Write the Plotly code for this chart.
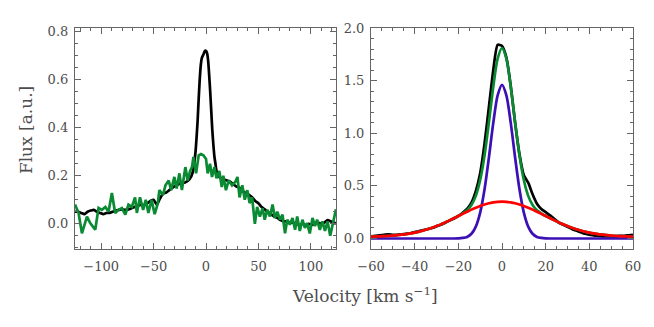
import plotly.graph_objects as go

# left panel: observed profile (black) and second line (green)
v_left_black = [-125, -122, -119, -116, -113, -110, -107, -104, -101, -98, -95, -92, -89, -86,
                -83, -80, -77, -74, -71, -68, -65, -62, -59, -56, -53, -50, -47, -44, -41, -38,
                -35, -32, -29, -26, -23, -20, -17, -15, -13, -11, -10, -9, -8, -7, -6, -5, -4,
                -3, -2, -1, 0, 1, 2, 3, 4, 5, 6, 7, 8, 9, 10, 12, 14, 17, 20, 23, 26, 29, 32,
                35, 38, 41, 44, 47, 50, 53, 56, 59, 62, 65, 68, 71, 74, 77, 80, 83, 86, 89, 92,
                95, 98, 101, 104, 107, 110, 113, 116, 119, 122, 124]
f_left_black = [0.05, 0.05, 0.045, 0.04, 0.05, 0.055, 0.058, 0.05, 0.045, 0.04, 0.045, 0.045, 0.05,
                0.055, 0.058, 0.06, 0.058, 0.06, 0.065, 0.07, 0.075, 0.08, 0.078, 0.085, 0.095,
                0.1, 0.08, 0.105, 0.125, 0.13, 0.14, 0.15, 0.16, 0.165, 0.17, 0.172, 0.18, 0.19,
                0.21, 0.26, 0.3, 0.36, 0.43, 0.52, 0.6, 0.66, 0.69, 0.7, 0.71, 0.72, 0.72, 0.71,
                0.68, 0.62, 0.55, 0.47, 0.39, 0.33, 0.28, 0.25, 0.22, 0.2, 0.19, 0.185, 0.18,
                0.175, 0.165, 0.155, 0.15, 0.135, 0.128, 0.12, 0.11, 0.095, 0.085, 0.07, 0.06,
                0.05, 0.04, 0.03, 0.025, 0.015, 0.01, 0.01, 0.005, 0.005, 0.0, -0.005, 0.0,
                -0.005, 0.0, -0.005, 0.0, 0.005, 0.0, 0.005, 0.015, 0.01, 0.005, 0.0]

v_left_green = [-125, -121.6, -118.4, -113.6, -110.5, -105.7, -102.5, -99.4, -96, -93, -89.8,
                -86.7, -83.5, -80.3, -77, -74, -70.8, -67.7, -66, -63, -60, -57.5, -55, -52,
                -49, -46, -44.5, -41, -38.7, -35.6, -33.3, -30.2, -28, -25.4, -23, -19.7, -17.5,
                -15.2, -13.4, -12, -9.5, -7, -4.8, -2.5, 0, 1.6, 3.8, 5.7, 8, 10, 12.7, 15,
                16.5, 19, 21.6, 24.8, 28, 30, 32, 34.6, 37, 39.4, 41.6, 44, 46.6, 48.8, 51.4,
                54, 56, 58.4, 61, 63.5, 65.7, 68, 70.5, 73, 75.4, 77.5, 80, 82.5, 85, 87, 89.5,
                92, 94.3, 96.5, 99, 101.6, 104, 106, 108.6, 111, 113.5, 116, 118.5, 121, 124]
f_left_green = [0.08, 0.045, -0.04, 0.03, 0.003, -0.025, 0.066, 0.058, 0.07, 0.05, 0.128, 0.045,
                0.058, 0.065, 0.038, 0.08, 0.07, 0.11, 0.045, 0.11, 0.058, 0.1, 0.045, 0.1,
                0.04, 0.085, 0.14, 0.12, 0.16, 0.18, 0.14, 0.195, 0.147, 0.21, 0.14, 0.236,
                0.18, 0.22, 0.236, 0.278, 0.21, 0.285, 0.29, 0.285, 0.27, 0.21, 0.25, 0.195,
                0.236, 0.19, 0.22, 0.153, 0.2, 0.14, 0.18, 0.16, 0.175, 0.195, 0.11, 0.16, 0.1,
                0.14, 0.086, 0.11, 0.0, 0.07, 0.03, 0.065, 0.017, 0.058, 0.03, 0.08, 0.024,
                0.05, 0.017, 0.038, -0.04, 0.017, -0.004, 0.024, -0.025, 0.03, -0.03, 0.017,
                -0.017, 0.003, -0.04, 0.024, -0.01, 0.017, -0.025, 0.01, -0.03, 0.01, -0.05,
                0.0, 0.06]

# right panel: observed profile and two-component fit
v_right = [-60, -58, -56, -54, -52, -50, -48, -46, -44, -42, -40, -38, -36, -34, -32, -30,
           -28, -26, -24, -22, -20, -18, -16, -14, -12, -10, -8, -6, -4, -2, 0, 2, 4, 6, 8,
           10, 12, 14, 16, 18, 20, 22, 24, 26, 28, 30, 32, 34, 36, 38, 40, 42, 44, 46, 48,
           50, 52, 54, 56, 58, 60]
f_right_black = [0.02, 0.025, 0.03, 0.035, 0.04, 0.035, 0.035, 0.04, 0.045, 0.05, 0.062, 0.07,
                 0.08, 0.09, 0.1, 0.115, 0.13, 0.15, 0.17, 0.19, 0.215, 0.245, 0.28, 0.34,
                 0.45, 0.62, 0.9, 1.25, 1.6, 1.84, 1.83, 1.72, 1.45, 1.1, 0.8, 0.6, 0.53, 0.42,
                 0.33, 0.28, 0.25, 0.22, 0.185, 0.15, 0.13, 0.11, 0.09, 0.075, 0.06, 0.045, 0.035,
                 0.03, 0.025, 0.02, 0.02, 0.02, 0.02, 0.025, 0.025, 0.03, 0.035]
f_right_total = [0.018, 0.019, 0.02, 0.022, 0.025, 0.027, 0.031, 0.036, 0.041, 0.048, 0.056,
                 0.065, 0.076, 0.088, 0.102, 0.118, 0.134, 0.153, 0.172, 0.194, 0.214, 0.239,
                 0.269, 0.319, 0.405, 0.555, 0.79, 1.104, 1.441, 1.708, 1.81, 1.708, 1.441,
                 1.104, 0.79, 0.555, 0.405, 0.319, 0.269, 0.239, 0.214, 0.194, 0.172, 0.153,
                 0.134, 0.118, 0.102, 0.088, 0.076, 0.065, 0.056, 0.048, 0.041, 0.036, 0.031,
                 0.027, 0.025, 0.022, 0.02, 0.019, 0.018]
f_right_narrow = [0, 0, 0, 0, 0, 0, 0, 0, 0, 0, 0, 0, 0, 0, 0, 0, 0, 0, 0, 0, 0.001, 0.005,
                  0.015, 0.045, 0.113, 0.246, 0.467, 0.769, 1.098, 1.36, 1.46, 1.36, 1.098,
                  0.769, 0.467, 0.246, 0.113, 0.045, 0.015, 0.005, 0.001, 0, 0, 0, 0, 0, 0, 0,
                  0, 0, 0, 0, 0, 0, 0, 0, 0, 0, 0, 0, 0]
f_right_broad = [0.018, 0.019, 0.02, 0.022, 0.025, 0.027, 0.031, 0.036, 0.041, 0.048, 0.056,
                 0.065, 0.076, 0.088, 0.102, 0.118, 0.134, 0.153, 0.172, 0.192, 0.213, 0.234,
                 0.254, 0.274, 0.292, 0.309, 0.323, 0.335, 0.343, 0.348, 0.35, 0.348, 0.343,
                 0.335, 0.323, 0.309, 0.292, 0.274, 0.254, 0.234, 0.213, 0.192, 0.172, 0.153,
                 0.134, 0.118, 0.102, 0.088, 0.076, 0.065, 0.056, 0.048, 0.041, 0.036, 0.031,
                 0.027, 0.025, 0.022, 0.02, 0.019, 0.018]

BLACK = '#000000'
GREEN = '#0a8a32'
BLUE = '#3c10b4'
RED = '#ff0000'
TXT = '#4d4d4d'
FONT = 'DejaVu Serif'

fig = go.Figure()
fig.add_trace(go.Scatter(x=v_left_black, y=f_left_black, mode='lines',
                         line=dict(color=BLACK, width=2.7, shape='spline', smoothing=0.6),
                         xaxis='x', yaxis='y'))
fig.add_trace(go.Scatter(x=v_left_green, y=f_left_green, mode='lines',
                         line=dict(color=GREEN, width=2.7), xaxis='x', yaxis='y'))

fig.add_trace(go.Scatter(x=v_right, y=f_right_black, mode='lines',
                         line=dict(color=BLACK, width=2.7, shape='spline', smoothing=0.6),
                         xaxis='x2', yaxis='y2'))
fig.add_trace(go.Scatter(x=v_right, y=f_right_total, mode='lines',
                         line=dict(color=GREEN, width=2.7, shape='spline', smoothing=0.8),
                         xaxis='x2', yaxis='y2'))
fig.add_trace(go.Scatter(x=v_right, y=f_right_narrow, mode='lines',
                         line=dict(color=BLUE, width=2.7, shape='spline', smoothing=0.8),
                         xaxis='x2', yaxis='y2'))
fig.add_trace(go.Scatter(x=v_right, y=f_right_broad, mode='lines',
                         line=dict(color=RED, width=2.7, shape='spline', smoothing=0.8),
                         xaxis='x2', yaxis='y2'))

axis_style = dict(
    showline=True, linecolor='#666666', linewidth=1.2, mirror='allticks',
    ticks='inside', ticklen=6, tickwidth=1, tickcolor='#666666',
    showgrid=False, zeroline=False, automargin=False,
    tickfont=dict(family=FONT, size=13, color=TXT),
)

# page body adds an 8px margin, so the figure is sized to fit inside it
fig.update_layout(
    width=638, height=311,
    margin=dict(l=67, r=13, t=20, b=70),
    plot_bgcolor='white', paper_bgcolor='white',
    showlegend=False,
    xaxis=dict(domain=[0, 0.4677], range=[-125, 124], dtick=50, anchor='y',
               minor=dict(dtick=10, ticks='inside', ticklen=3, tickcolor='#666666'),
               ticklabelstandoff=5, **axis_style),
    yaxis=dict(range=[-0.105, 0.815], dtick=0.2, tickformat='.1f', anchor='x',
               minor=dict(dtick=0.05, ticks='inside', ticklen=3, tickcolor='#666666'),
               ticklabelstandoff=3, **axis_style),
    xaxis2=dict(domain=[0.5305, 1], range=[-60, 60], dtick=20, anchor='y2',
                minor=dict(dtick=5, ticks='inside', ticklen=3, tickcolor='#666666'),
                ticklabelstandoff=5, **axis_style),
    yaxis2=dict(range=[-0.1, 2.0], dtick=0.5, tickformat='.1f', anchor='x2',
                minor=dict(dtick=0.1, ticks='inside', ticklen=3, tickcolor='#666666'),
                ticklabelstandoff=3, **axis_style),
    annotations=[
        dict(text='Velocity [km s<sup>\u22121</sup>]', xref='paper', yref='paper',
             x=0.52, y=-0.208, xanchor='center', yanchor='middle', showarrow=False,
             font=dict(family=FONT, size=17, color=TXT)),
        dict(text='Flux [a.u.]', xref='paper', yref='paper', textangle=-90,
             x=-0.0878, y=0.538, xanchor='center', yanchor='middle', showarrow=False,
             font=dict(family=FONT, size=17, color=TXT)),
    ],
)

fig.write_html("out.html")
